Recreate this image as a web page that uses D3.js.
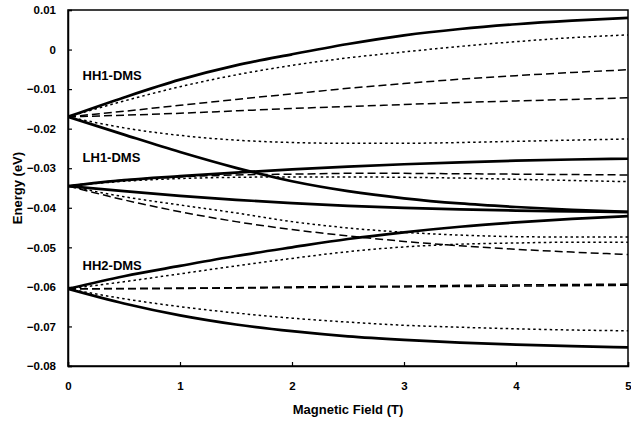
<!DOCTYPE html>
<html>
<head>
<meta charset="utf-8">
<script src="https://cdn.jsdelivr.net/npm/d3@7"></script>
<style>
  html, body { margin: 0; padding: 0; background: #fff; }
  svg text { font-family: "Liberation Sans", Arial, sans-serif; font-weight: bold; fill: #000; }
</style>
</head>
<body>
<svg id="chart" width="631" height="424"></svg>
<script>
// Magnetic field sample points (T)
const field = [0, 0.5, 1, 1.5, 2, 2.5, 3, 3.5, 4, 4.5, 5];

// HH1-DMS subband branches (eV)
const hh1SolidUp   = [-0.0170, -0.0121, -0.0076, -0.0040, -0.0012, 0.0014, 0.0036, 0.0052, 0.0064, 0.0073, 0.0080];
const hh1DotUp     = [-0.0170, -0.0130, -0.0094, -0.0064, -0.0040, -0.0021, -0.0006, 0.0008, 0.0020, 0.0030, 0.0037];
const hh1DashA     = [-0.0170, -0.0156, -0.0141, -0.0126, -0.0112, -0.0098, -0.0086, -0.0075, -0.0066, -0.0058, -0.0051];
const hh1DashB     = [-0.0170, -0.0166, -0.0161, -0.0155, -0.0149, -0.0144, -0.0139, -0.0134, -0.0130, -0.0126, -0.0122];
const hh1DotDown   = [-0.0170, -0.0198, -0.0217, -0.0229, -0.0235, -0.0237, -0.0237, -0.0235, -0.0232, -0.0229, -0.0226];
const hh1SolidDown = [-0.0170, -0.0215, -0.0259, -0.0299, -0.0333, -0.0358, -0.0376, -0.0389, -0.0398, -0.0405, -0.0410];

// LH1-DMS subband branches (eV)
const lh1SolidUp   = [-0.0345, -0.0330, -0.0320, -0.0311, -0.0303, -0.0296, -0.0290, -0.0285, -0.0281, -0.0278, -0.0276];
const lh1DashUp    = [-0.0345, -0.0330, -0.0322, -0.0317, -0.0315, -0.0313, -0.0313, -0.0314, -0.0315, -0.0316, -0.0317];
const lh1DotUp     = [-0.0345, -0.0333, -0.0326, -0.0323, -0.0322, -0.0322, -0.0323, -0.0325, -0.0328, -0.0331, -0.0334];
const lh1SolidDown = [-0.0345, -0.0358, -0.0370, -0.0380, -0.0388, -0.0395, -0.0400, -0.0404, -0.0407, -0.0409, -0.0411];
const lh1DotDown   = [-0.0345, -0.0372, -0.0393, -0.0413, -0.0435, -0.0451, -0.0462, -0.0469, -0.0473, -0.0474, -0.0474];
const lh1DashDown  = [-0.0345, -0.0380, -0.0410, -0.0435, -0.0455, -0.0471, -0.0485, -0.0496, -0.0505, -0.0512, -0.0518];

// HH2-DMS subband branches (eV)
const hh2SolidUp   = [-0.0605, -0.0573, -0.0547, -0.0522, -0.0500, -0.0479, -0.0462, -0.0448, -0.0437, -0.0428, -0.0421];
const hh2DotUp     = [-0.0605, -0.0587, -0.0567, -0.0547, -0.0528, -0.0511, -0.0499, -0.0492, -0.0489, -0.0487, -0.0487];
const hh2DashA     = [-0.0605, -0.0604, -0.0603, -0.0602, -0.0600, -0.0599, -0.0598, -0.0596, -0.0595, -0.0594, -0.0593];
const hh2DashB     = [-0.0605, -0.0605, -0.0604, -0.0603, -0.0602, -0.0601, -0.0600, -0.0599, -0.0598, -0.0597, -0.0596];
const hh2DotDown   = [-0.0605, -0.0630, -0.0650, -0.0666, -0.0679, -0.0689, -0.0697, -0.0702, -0.0706, -0.0709, -0.0711];
const hh2SolidDown = [-0.0605, -0.0642, -0.0672, -0.0695, -0.0712, -0.0725, -0.0734, -0.0741, -0.0746, -0.0750, -0.0753];

// Axis ticks
const xTicks = [0, 1, 2, 3, 4, 5];
const yTicks = [0.01, 0, -0.01, -0.02, -0.03, -0.04, -0.05, -0.06, -0.07, -0.08];

// Subband labels (baseline energy)
const bandLabels = ["HH1-DMS", "LH1-DMS", "HH2-DMS"];
const bandLabelEnergy = [-0.0077, -0.0284, -0.0557];

const series = [
  { v: hh1SolidUp, s: "solid" }, { v: hh1DotUp, s: "dot" }, { v: hh1DashA, s: "dash" },
  { v: hh1DashB, s: "dash" }, { v: hh1DotDown, s: "dot" }, { v: hh1SolidDown, s: "solid" },
  { v: lh1SolidUp, s: "solid" }, { v: lh1DashUp, s: "dash" }, { v: lh1DotUp, s: "dot" },
  { v: lh1SolidDown, s: "solid" }, { v: lh1DotDown, s: "dot" }, { v: lh1DashDown, s: "dash" },
  { v: hh2SolidUp, s: "solid" }, { v: hh2DotUp, s: "dot" }, { v: hh2DashA, s: "dash" },
  { v: hh2DashB, s: "dash" }, { v: hh2DotDown, s: "dot" }, { v: hh2SolidDown, s: "solid" }
];

const styles = {
  solid: { w: 2.7, dash: null },
  dot:   { w: 1.5, dash: "2.5,3" },
  dash:  { w: 1.5, dash: "8,4" }
};

const margin = { left: 68, right: 3, top: 10, bottom: 58 };
const W = 631, H = 424;
const svg = d3.select("#chart");

const x = d3.scaleLinear().domain([0, 5]).range([margin.left, W - margin.right]);
const y = d3.scaleLinear().domain([-0.08, 0.01]).range([H - margin.bottom, margin.top]);

const plot = svg.append("g");
plot.append("clipPath").attr("id", "clip")
  .append("rect").attr("x", x(0)).attr("y", y(0.01))
  .attr("width", x(5) - x(0)).attr("height", y(-0.08) - y(0.01));

const line = d3.line()
  .x((d, i) => x(field[i]))
  .y(d => y(d))
  .curve(d3.curveMonotoneX);

plot.append("g").attr("clip-path", "url(#clip)")
  .selectAll("path").data(series).join("path")
  .attr("d", d => line(d.v))
  .attr("fill", "none")
  .attr("stroke", "#000")
  .attr("stroke-width", d => styles[d.s].w)
  .attr("stroke-dasharray", d => styles[d.s].dash)
  .attr("stroke-linejoin", "round");

// Frame
svg.append("rect")
  .attr("x", x(0)).attr("y", y(0.01))
  .attr("width", x(5) - x(0)).attr("height", y(-0.08) - y(0.01))
  .attr("fill", "none").attr("stroke", "#000").attr("stroke-width", 1.5);

// Axes with inward ticks
const fmtY = d => d === 0 ? "0" : d3.format("")(+d.toFixed(2));
const yAxis = d3.axisLeft(y).tickValues(yTicks).tickSize(-4).tickPadding(12).tickFormat(fmtY);
const gy = svg.append("g").attr("transform", `translate(${x(0)},0)`).call(yAxis);
const xAxis = d3.axisBottom(x).tickValues(xTicks).tickSize(-4).tickPadding(16).tickFormat(d3.format("d"));
const gx = svg.append("g").attr("transform", `translate(0,${y(-0.08)})`).call(xAxis);

[gx, gy].forEach(g => {
  g.select(".domain").attr("stroke", "#000").attr("stroke-width", 1.5);
  g.selectAll(".tick line").attr("stroke", "#000").attr("stroke-width", 1.2);
  g.selectAll(".tick text").attr("font-size", 11.5).attr("font-weight", "bold")
    .attr("font-family", "Liberation Sans, Arial, sans-serif").attr("fill", "#000");
});

// Axis titles
svg.append("text")
  .attr("x", (x(0) + x(5)) / 2).attr("y", 414)
  .attr("text-anchor", "middle").attr("font-size", 13)
  .text("Magnetic Field (T)");

svg.append("text")
  .attr("transform", `translate(22,${(y(0.01) + y(-0.08)) / 2}) rotate(-90)`)
  .attr("text-anchor", "middle").attr("font-size", 13)
  .text("Energy (eV)");

// Subband labels
svg.append("g").selectAll("text").data(bandLabels).join("text")
  .attr("x", x(0.13))
  .attr("y", (d, i) => y(bandLabelEnergy[i]))
  .attr("font-size", 13)
  .text(d => d);
</script>
</body>
</html>
